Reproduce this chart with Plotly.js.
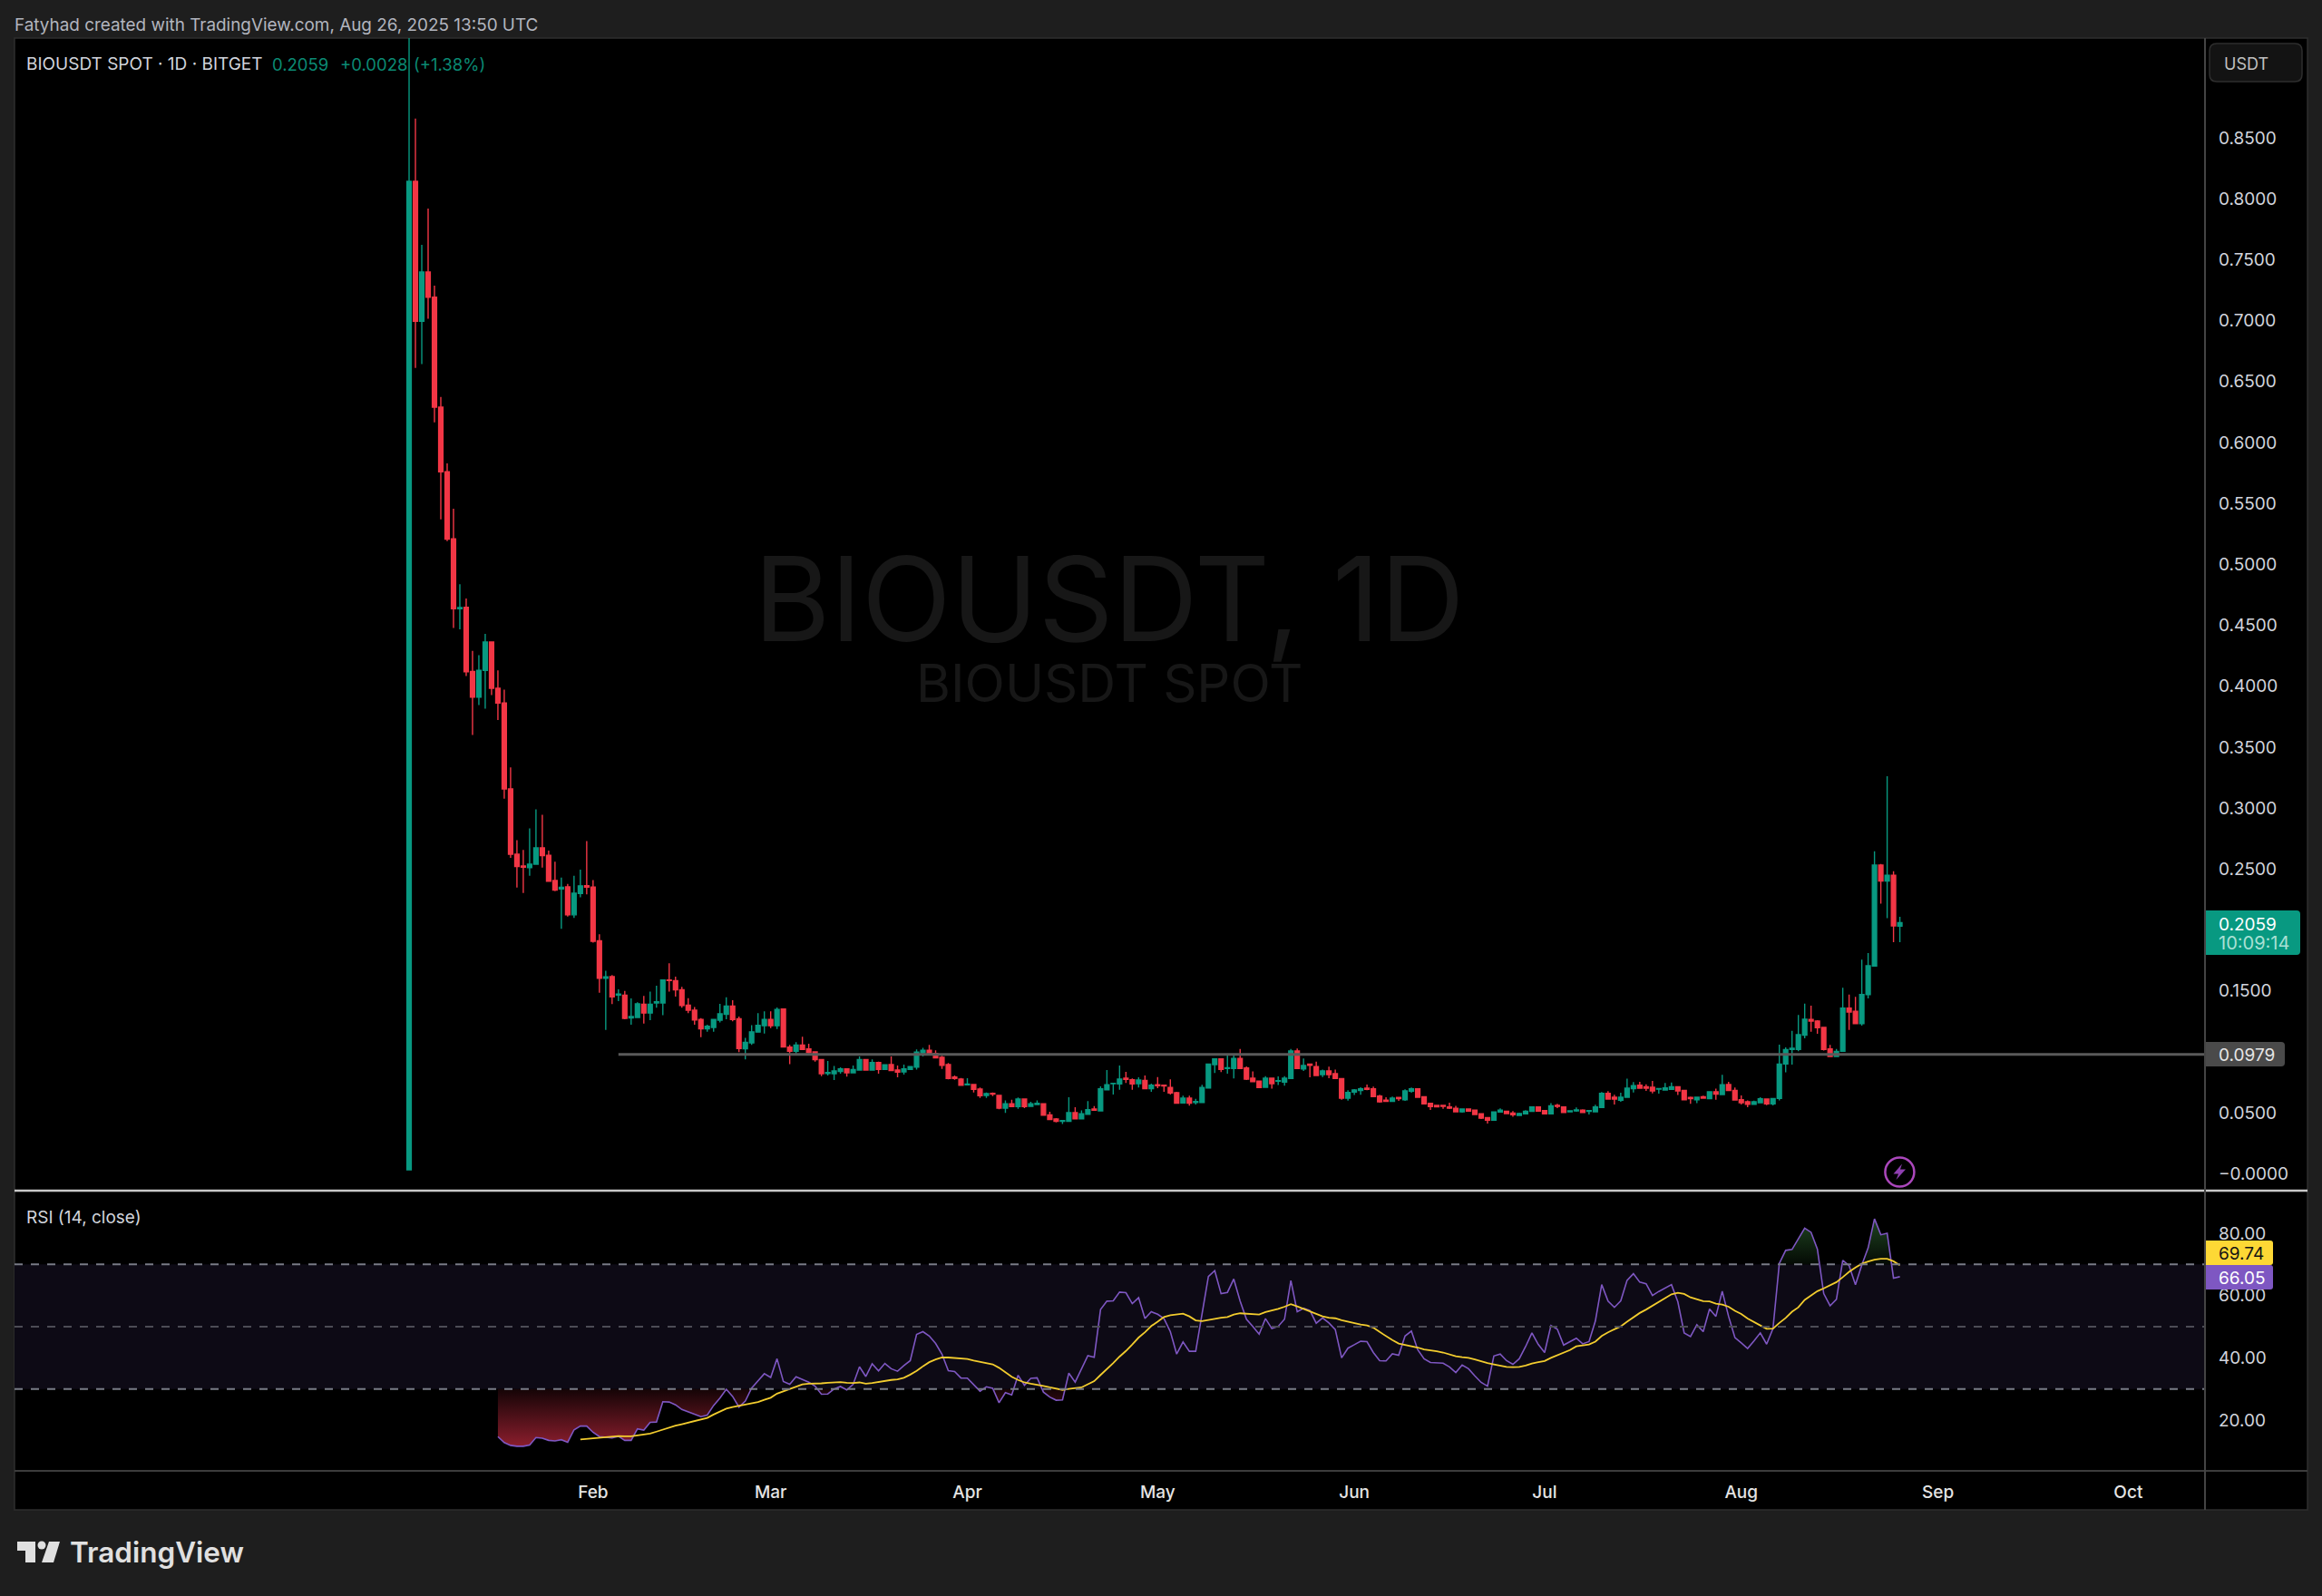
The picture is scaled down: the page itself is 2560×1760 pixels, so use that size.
<!DOCTYPE html>
<html>
<head>
<meta charset="utf-8">
<script src="https://cdn.plot.ly/plotly-3.0.1.min.js"></script>
<style>html,body{margin:0;padding:0;background:#1e1e1e}#chart{width:2560px;height:1760px}</style>
</head>
<body>
<div id="chart"></div>
<script>
const firstDay = '2025-01-03';
const opens = [.0032,.8142,.6994,.7398,.7192,.6289,.5759,.5210,.4636,.4648,
.4121,.3910,.4130,.4362,.3983,.3862,.3157,.2621,.2525,.2512,
.2539,.2674,.2612,.2406,.2336,.2353,.2124,.2299,.2364,.2352,
.1912,.1603,.1617,.1465,.1465,.1277,.1282,.1391,.1318,.1401,
.1401,.1589,.1583,.1509,.1382,.1342,.1265,.1188,.1200,.1260,
.1308,.1376,.1271,.1024,.1074,.1162,.1214,.1265,.1214,.1351,
.1039,.1004,.1056,.1024,.0999,.0937,.0823,.0821,.0838,.0860,
.0828,.0850,.0937,.0850,.0912,.0855,.0895,.0850,.0836,.0855,
.0875,.0992,.1012,.0987,.0955,.0895,.0793,.0776,.0729,.0731,
.0694,.0642,.0659,.0642,.0538,.0573,.0550,.0612,.0553,.0568,
.0573,.0483,.0449,.0429,.0429,.0501,.0451,.0488,.0530,.0516,
.0689,.0739,.0736,.0783,.0771,.0739,.0766,.0697,.0729,.0726,
.0707,.0664,.0580,.0620,.0585,.0585,.0704,.0895,.0942,.0863,
.0863,.0945,.0868,.0783,.0759,.0709,.0783,.0759,.0751,.0781,
.1007,.0860,.0900,.0878,.0813,.0843,.0821,.0781,.0620,.0670,
.0682,.0702,.0697,.0637,.0603,.0593,.0625,.0607,.0677,.0697,
.0632,.0578,.0560,.0560,.0548,.0536,.0508,.0530,.0521,.0491,
.0461,.0439,.0506,.0513,.0498,.0478,.0491,.0511,.0548,.0518,
.0491,.0560,.0548,.0508,.0516,.0521,.0511,.0508,.0543,.0659,
.0627,.0603,.0627,.0697,.0726,.0714,.0709,.0694,.0687,.0692,
.0714,.0684,.0625,.0607,.0632,.0615,.0672,.0650,.0731,.0684,
.0607,.0590,.0570,.0583,.0612,.0573,.0617,.0900,.1019,.1019,
.1136,.1265,.1252,.1200,.1024,.0962,.1004,.1359,.1332,.1232,
.1470,.1704,.2532,.2401,.2448,.2031];
const highs = [.9500,.8658,.7621,.7919,.7287,.6373,.5828,.5456,.4836,.4719,
.4290,.4254,.4430,.4365,.4130,.3972,.3333,.2736,.2656,.2833,
.2989,.2945,.2651,.2559,.2430,.2377,.2444,.2495,.2730,.2409,
.1965,.1665,.1629,.1513,.1500,.1438,.1406,.1459,.1494,.1542,
.1594,.1727,.1617,.1533,.1441,.1368,.1277,.1223,.1265,.1394,
.1447,.1423,.1290,.1115,.1218,.1318,.1332,.1332,.1364,.1353,
.1056,.1079,.1123,.1066,.1004,.0942,.0925,.0883,.0873,.0865,
.0888,.0962,.0940,.0937,.0920,.0895,.0962,.0888,.0895,.0880,
.1019,.1032,.1056,.1012,.0967,.0908,.0806,.0786,.0783,.0734,
.0707,.0667,.0667,.0647,.0602,.0607,.0625,.0615,.0590,.0602,
.0578,.0508,.0456,.0436,.0627,.0545,.0520,.0595,.0555,.0717,
.0850,.0739,.0888,.0836,.0781,.0791,.0806,.0739,.0793,.0729,
.0774,.0672,.0640,.0640,.0615,.0729,.0905,.0945,.0945,.0969,
.0974,.1024,.0880,.0840,.0761,.0801,.0788,.0798,.0801,.1024,
.1027,.0945,.0905,.0920,.0855,.0878,.0855,.0781,.0684,.0694,
.0709,.0731,.0714,.0647,.0627,.0632,.0627,.0692,.0707,.0697,
.0632,.0580,.0564,.0564,.0583,.0556,.0536,.0536,.0526,.0496,
.0466,.0508,.0536,.0518,.0513,.0501,.0521,.0553,.0550,.0521,
.0578,.0573,.0553,.0518,.0543,.0528,.0518,.0566,.0670,.0677,
.0647,.0664,.0779,.0751,.0754,.0734,.0761,.0699,.0744,.0749,
.0719,.0689,.0632,.0632,.0640,.0677,.0697,.0811,.0754,.0707,
.0642,.0602,.0600,.0627,.0615,.0620,.1059,.1037,.1173,.1302,
.1396,.1379,.1260,.1205,.1056,.1024,.1525,.1470,.1451,.1756,
.1810,.2646,.2542,.3261,.2482,.2108];
const lows = [.0032,.6612,.6642,.7014,.6165,.5369,.5190,.4478,.4466,.4083,
.3600,.3845,.3815,.3927,.3723,.3077,.2591,.2347,.2304,.2444,
.2539,.2512,.2395,.2319,.2009,.2110,.2098,.2268,.2292,.1895,
.1485,.1179,.1391,.1415,.1268,.1223,.1278,.1232,.1260,.1362,
.1300,.1494,.1453,.1362,.1318,.1223,.1121,.1164,.1164,.1242,
.1268,.1250,.0997,.0938,.1056,.1162,.1150,.1194,.1188,.1037,
.0898,.0969,.1017,.0987,.0920,.0801,.0806,.0769,.0821,.0796,
.0826,.0848,.0848,.0848,.0821,.0853,.0844,.0791,.0813,.0853,
.0855,.0962,.0969,.0948,.0860,.0774,.0771,.0724,.0727,.0667,
.0622,.0622,.0637,.0528,.0498,.0548,.0533,.0538,.0551,.0563,
.0477,.0442,.0421,.0407,.0427,.0449,.0449,.0486,.0518,.0514,
.0687,.0650,.0689,.0744,.0689,.0707,.0695,.0672,.0702,.0672,
.0650,.0576,.0578,.0558,.0568,.0583,.0702,.0826,.0833,.0821,
.0781,.0861,.0769,.0754,.0705,.0707,.0697,.0727,.0722,.0779,
.0861,.0843,.0791,.0804,.0793,.0784,.0779,.0607,.0600,.0645,
.0647,.0684,.0630,.0583,.0591,.0590,.0598,.0598,.0664,.0625,
.0571,.0523,.0546,.0533,.0530,.0506,.0501,.0508,.0481,.0449,
.0411,.0437,.0501,.0491,.0468,.0476,.0489,.0509,.0511,.0489,
.0489,.0538,.0501,.0503,.0508,.0501,.0486,.0506,.0541,.0610,
.0568,.0590,.0625,.0667,.0700,.0679,.0659,.0657,.0685,.0690,
.0645,.0605,.0573,.0578,.0615,.0613,.0607,.0648,.0680,.0603,
.0568,.0545,.0568,.0581,.0563,.0560,.0602,.0831,.0895,.1005,
.1111,.1165,.1148,.1010,.0957,.0957,.1000,.1180,.1230,.1215,
.1438,.1700,.2215,.2096,.1900,.1900];
const closes = [.8142,.6994,.7398,.7192,.6289,.5759,.5206,.4636,.4645,.4118,
.3910,.4130,.4362,.3983,.3862,.3157,.2621,.2521,.2515,.2539,
.2674,.2609,.2400,.2327,.2351,.2124,.2301,.2362,.2352,.1907,
.1603,.1615,.1450,.1474,.1274,.1290,.1394,.1318,.1391,.1410,
.1589,.1585,.1509,.1380,.1342,.1262,.1188,.1209,.1265,.1312,
.1376,.1265,.1027,.1077,.1164,.1218,.1265,.1214,.1347,.1039,
.1004,.1056,.1019,.0994,.0935,.0821,.0831,.0843,.0860,.0828,
.0855,.0937,.0850,.0912,.0855,.0893,.0846,.0833,.0860,.0878,
.0997,.1012,.0982,.0950,.0890,.0781,.0781,.0726,.0736,.0692,
.0640,.0657,.0652,.0538,.0573,.0550,.0612,.0550,.0573,.0578,
.0479,.0444,.0429,.0436,.0501,.0451,.0491,.0525,.0520,.0697,
.0729,.0741,.0776,.0774,.0736,.0769,.0697,.0726,.0722,.0719,
.0662,.0578,.0620,.0578,.0593,.0707,.0900,.0942,.0855,.0870,
.0945,.0863,.0776,.0756,.0707,.0783,.0739,.0764,.0783,.1007,
.0863,.0888,.0890,.0806,.0843,.0813,.0781,.0620,.0667,.0687,
.0697,.0692,.0632,.0590,.0593,.0620,.0615,.0680,.0697,.0627,
.0573,.0551,.0548,.0553,.0538,.0508,.0530,.0513,.0486,.0456,
.0439,.0506,.0521,.0493,.0483,.0493,.0513,.0548,.0513,.0491,
.0556,.0553,.0503,.0516,.0523,.0503,.0518,.0548,.0659,.0612,
.0612,.0627,.0702,.0722,.0702,.0702,.0679,.0699,.0704,.0714,
.0679,.0607,.0615,.0627,.0620,.0672,.0652,.0729,.0682,.0605,
.0583,.0570,.0590,.0615,.0573,.0617,.0900,.1019,.1029,.1141,
.1267,.1252,.1198,.1019,.0962,.1004,.1359,.1327,.1232,.1470,
.1706,.2532,.2401,.2448,.2033,.2059];
const rsiStartIndex = 14;
const rsiValues = [14.7,12.8,11.9,11.6,11.6,12.0,14.4,14.2,13.5,13.3,13.7,12.9,16.9,18.1,18.1,16.1,
14.7,14.6,14.3,14.8,13.5,13.5,17.2,16.8,19.3,19.4,25.9,25.8,24.9,23.4,22.7,22.0,21.1,21.6,24.7,27.1,
29.9,27.6,24.2,26.1,30.3,32.6,34.9,33.7,39.7,32.4,31.5,33.9,33.0,32.2,30.9,28.3,28.4,30.0,30.8,29.7,
31.5,37.1,34.0,38.1,35.8,38.2,36.5,35.7,37.5,39.1,47.5,48.4,47.0,44.6,41.2,35.9,35.6,33.5,33.5,31.5,
29.3,30.7,30.2,25.6,28.8,28.1,34.4,31.2,33.4,33.6,29.0,27.4,26.4,26.5,35.1,32.2,36.3,40.7,40.2,55.5,
58.2,58.3,61.1,60.9,57.4,59.3,52.6,54.8,54.0,52.6,48.4,41.2,45.1,42.1,42.1,53.8,66.1,68.0,60.6,61.0,
65.3,58.2,52.4,50.1,47.6,52.6,49.4,50.1,52.4,64.8,54.8,55.9,55.2,51.1,52.8,51.2,49.1,40.0,43.1,44.2,
45.3,45.2,41.7,39.1,39.0,41.3,40.8,47.0,48.6,42.6,39.7,38.5,38.5,38.3,37.1,35.3,37.7,36.5,34.2,32.1,
30.9,40.6,41.2,39.1,37.9,39.7,43.6,48.0,44.3,41.7,50.4,49.2,44.1,45.2,46.3,44.5,45.2,51.8,63.5,58.2,
56.2,58.3,64.9,67.0,64.3,63.8,60.0,61.3,62.4,63.5,58.0,48.0,46.8,50.6,48.4,55.7,53.3,61.4,53.3,46.5,
44.8,43.0,45.4,48.0,44.4,49.4,70.3,74.5,74.8,78.3,81.6,80.3,74.9,60.6,56.7,58.8,71.3,69.6,63.5,69.8,
75.3,84.6,79.5,80.0,65.6,66.05];
const rsiMaStartIndex = 27;
const rsiMaValues = [13.8,14.0,14.2,14.4,14.6,14.7,14.9,14.8,14.8,15.1,15.4,15.7,16.3,17.0,17.6,18.2,18.7,19.2,19.7,
20.1,20.7,21.8,22.7,23.7,24.2,24.6,25.0,25.3,25.8,26.5,27.2,28.5,29.3,30.1,30.9,31.5,31.7,31.7,31.8,32.0,
32.2,32.2,32.0,31.9,32.1,31.7,31.9,32.3,32.7,32.9,33.1,33.6,34.6,35.8,37.3,38.6,39.5,40.1,40.1,40.0,
39.8,39.6,39.1,38.7,38.4,37.9,36.8,35.3,33.9,32.9,32.1,31.7,31.4,31.0,30.5,30.0,29.7,30.0,30.2,30.5,
31.5,32.5,34.5,36.3,38.3,40.4,42.2,44.3,46.5,48.2,50.2,51.6,53.1,53.7,53.9,54.2,53.3,52.0,51.8,52.2,
52.7,52.9,53.1,53.9,54.3,54.2,54.0,53.9,54.7,55.1,55.7,56.4,57.2,56.5,55.7,55.0,54.1,53.3,52.9,52.7,
52.1,51.6,51.1,50.7,50.4,49.7,48.3,46.9,45.7,44.6,44.2,43.9,43.3,42.7,42.5,42.1,41.7,41.1,40.5,40.2,
40.0,39.5,38.8,38.3,37.9,37.4,37.1,37.0,37.1,37.5,38.2,38.6,39.0,40.0,40.9,41.6,42.5,43.7,44.1,44.3,
45.2,47.0,48.2,49.2,50.1,51.6,53.0,54.4,55.5,56.7,58.0,59.0,60.4,60.9,60.5,59.4,58.8,58.2,58.1,57.4,
57.1,56.4,55.1,54.1,52.6,51.6,50.4,49.3,49.4,51.2,52.8,54.8,56.2,58.6,60.1,61.4,62.3,63.2,64.3,65.9,
67.6,69.0,70.2,70.9,71.5,71.8,71.8,71.0,69.74];
const priceTicks = [0,0.05,0.15,0.25,0.3,0.35,0.4,0.45,0.5,0.55,0.6,0.65,0.7,0.75,0.8,0.85];
const priceTickText = ['\u22120.0000','0.0500','0.1500','0.2500','0.3000','0.3500','0.4000','0.4500','0.5000','0.5500','0.6000','0.6500','0.7000','0.7500','0.8000','0.8500'];
const rsiTicks = [20,40,60,80];
const monthTicks = ['2025-02-01','2025-03-01','2025-04-01','2025-05-01','2025-06-01','2025-07-01','2025-08-01','2025-09-01','2025-10-01'];
const monthLabels = ['Feb','Mar','Apr','May','Jun','Jul','Aug','Sep','Oct'];
const supportLevel = 0.0979;
const supportStart = '2025-02-05';

const W = 2560, H = 1760, FONT = 'Inter, "Noto Sans", sans-serif';
const DAY = 86400000, t0 = Date.parse(firstDay + 'T00:00:00Z');
const dayIso = d => new Date(t0 + d * DAY).toISOString().slice(0, 19).replace('T', ' ');
const dates = opens.map((_, i) => dayIso(i));
const xRange = [dayIso(-62.2), dayIso(283.1)];
const X = x => x / W, Y = y => 1 - y / H;

// fill region of the RSI line beyond a level, closed along that level
function beyond(level, isBelow) {
  const xs = [], ys = [];
  const inside = v => isBelow ? v < level : v > level;
  let open = false, startX = null;
  const close = () => { xs.push(xs[xs.length - 1], startX, null); ys.push(level, level, null); open = false; };
  rsiValues.forEach((v, k) => {
    const d = k + rsiStartIndex;
    const prev = k > 0 ? rsiValues[k - 1] : null;
    if (inside(v)) {
      if (!open) {
        if (prev === null) { startX = dayIso(d); xs.push(startX); ys.push(level); }
        else { const c = d - 1 + (level - prev) / (v - prev); startX = dayIso(c); xs.push(startX); ys.push(level); }
        open = true;
      }
      xs.push(dayIso(d)); ys.push(v);
    } else if (open) {
      const c = d - 1 + (level - prev) / (v - prev);
      xs.push(dayIso(c)); ys.push(level);
      close();
    }
  });
  if (open) close();
  return { xs, ys };
}
const lowFill = beyond(30, true), highFill = beyond(70, false);

const traces = [
  { type: 'scatter', mode: 'lines', x: [supportStart, xRange[1]], y: [supportLevel, supportLevel], xaxis: 'x', yaxis: 'y',
    line: { color: '#5a5a5a', width: 3 }, hoverinfo: 'skip', showlegend: false },
  { type: 'candlestick', x: dates, open: opens, high: highs, low: lows, close: closes, xaxis: 'x', yaxis: 'y',
    increasing: { line: { color: '#089981', width: 1.4 }, fillcolor: '#089981' },
    decreasing: { line: { color: '#F23645', width: 1.4 }, fillcolor: '#F23645' },
    whiskerwidth: 0, hoverinfo: 'skip', showlegend: false },
  { type: 'scatter', mode: 'lines', x: lowFill.xs, y: lowFill.ys, xaxis: 'x', yaxis: 'y2', fill: 'toself',
    fillgradient: { type: 'vertical', start: 30, stop: 11.5, colorscale: [[0, 'rgba(20,4,6,1)'], [1, 'rgb(140,30,45)']] },
    line: { width: 0 }, hoverinfo: 'skip', showlegend: false },
  { type: 'scatter', mode: 'lines', x: highFill.xs, y: highFill.ys, xaxis: 'x', yaxis: 'y2', fill: 'toself',
    fillgradient: { type: 'vertical', start: 70, stop: 84, colorscale: [[0, 'rgb(4,10,4)'], [1, 'rgb(30,66,32)']] },
    line: { width: 0 }, hoverinfo: 'skip', showlegend: false },
  { type: 'scatter', mode: 'lines', x: rsiValues.map((_, k) => dayIso(k + rsiStartIndex)), y: rsiValues, xaxis: 'x', yaxis: 'y2',
    line: { color: '#7E57C2', width: 1.6 }, hoverinfo: 'skip', showlegend: false },
  { type: 'scatter', mode: 'lines', x: rsiMaValues.map((_, k) => dayIso(k + rsiMaStartIndex)), y: rsiMaValues, xaxis: 'x', yaxis: 'y2',
    line: { color: '#F2CC2E', width: 1.8 }, hoverinfo: 'skip', showlegend: false }
];

const rr = (x0, y0, x1, y1, r) => {
  const p = (x, y) => X(x) + ',' + Y(y);
  return 'M' + p(x0 + r, y0) + ' L' + p(x1 - r, y0) + ' Q' + p(x1, y0) + ' ' + p(x1, y0 + r) +
    ' L' + p(x1, y1 - r) + ' Q' + p(x1, y1) + ' ' + p(x1 - r, y1) +
    ' L' + p(x0 + r, y1) + ' Q' + p(x0, y1) + ' ' + p(x0, y1 - r) +
    ' L' + p(x0, y0 + r) + ' Q' + p(x0, y0) + ' ' + p(x0 + r, y0) + ' Z';
};
const rightBox = (x0, y0, x1, y1, r) => {
  const p = (x, y) => X(x) + ',' + Y(y);
  return 'M' + p(x0, y0) + ' L' + p(x1 - r, y0) + ' Q' + p(x1, y0) + ' ' + p(x1, y0 + r) +
    ' L' + p(x1, y1 - r) + ' Q' + p(x1, y1) + ' ' + p(x1 - r, y1) + ' L' + p(x0, y1) + ' Z';
};
const poly = pts => 'M' + pts.map(q => X(q[0]) + ',' + Y(q[1])).join(' L') + ' Z';
const paperLine = (x0, y0, x1, y1, color, width) => ({ type: 'line', xref: 'paper', yref: 'paper', x0: X(x0), x1: X(x1), y0: Y(y0), y1: Y(y1), line: { color, width }, layer: 'above' });
const pathShape = (path, fill, lineColor, lineWidth) => ({ type: 'path', xref: 'paper', yref: 'paper', path, fillcolor: fill, line: { color: lineColor || fill, width: lineWidth || 0 }, layer: 'above' });
const rsiLevel = (v, color) => ({ type: 'line', xref: 'x domain', yref: 'y2', x0: 0, x1: 1, y0: v, y1: v, line: { color, width: 2, dash: '9px,9px' }, layer: 'above' });

const shapes = [
  { type: 'rect', xref: 'paper', yref: 'paper', x0: X(16), x1: X(2544), y0: Y(1665), y1: Y(42), fillcolor: '#000000', line: { color: '#2e2e2e', width: 1.5 }, layer: 'below' },
  { type: 'rect', xref: 'x domain', yref: 'y2', x0: 0, x1: 1, y0: 30, y1: 70, fillcolor: '#0d0a15', line: { width: 0 }, layer: 'below' },
  rsiLevel(70, '#787b86'), rsiLevel(50, '#4c4c55'), rsiLevel(30, '#787b86'),
  paperLine(16, 1313, 2544, 1313, '#c9c9c9', 2.5),
  paperLine(16, 1622, 2544, 1622, '#3c3c3c', 2),
  paperLine(2431, 42, 2431, 1665, '#444444', 2),
  pathShape(rightBox(2432, 1004, 2536, 1053, 4), '#089981'),
  pathShape(rightBox(2432, 1149, 2519, 1176, 4), '#4a4a4a'),
  pathShape(rightBox(2432, 1368, 2506, 1395, 3), '#FDD835'),
  pathShape(rightBox(2432, 1395, 2506, 1422, 3), '#7E57C2'),
  pathShape(rr(2436, 48, 2538, 90, 8), '#131313', '#2e2e2e', 1.5),
  { type: 'circle', xref: 'paper', yref: 'paper', x0: X(2078.4), x1: X(2110.4), y0: Y(1308.5), y1: Y(1276.5), line: { color: '#AB47BC', width: 2.5 }, fillcolor: 'rgba(0,0,0,0)', layer: 'above' },
  pathShape(poly([[2097, 1283.5], [2087.5, 1294.5], [2093, 1294.5], [2090.5, 1301], [2101, 1289.5], [2095, 1289.5]]), '#8E3FB0'),
  pathShape(poly([[19, 1700], [39, 1700], [39, 1723], [28, 1723], [28, 1710], [19, 1710]]), '#e0e0e0'),
  { type: 'circle', xref: 'paper', yref: 'paper', x0: X(41.5), x1: X(50.5), y0: Y(1708.5), y1: Y(1699.5), fillcolor: '#e0e0e0', line: { width: 0 }, layer: 'above' },
  pathShape(poly([[54, 1700], [66, 1700], [59, 1723], [46, 1723]]), '#e0e0e0')
];

const note = (x, y, text, size, color, extra) => Object.assign({
  xref: 'paper', yref: 'paper', x: X(x), y: Y(y), text, showarrow: false, xanchor: 'left', yanchor: 'middle',
  borderpad: 0, font: { family: FONT, size, color }
}, extra || {});
const annotations = [
  note(1223, 660, 'BIOUSDT, 1D', 129, '#171717', { xanchor: 'center' }),
  note(1223, 753, 'BIOUSDT SPOT', 58, '#171717', { xanchor: 'center' }),
  note(15, 28, 'Fatyhad created with TradingView.com, Aug 26, 2025 13:50 UTC', 18.9, '#b2b5be'),
  note(28, 71, 'BIOUSDT SPOT \u00b7 1D \u00b7 BITGET', 19, '#d1d4dc'),
  note(299, 71, '0.2059', 18.5, '#0b8a74'),
  note(374, 71, '+0.0028', 18.5, '#0b8a74'),
  note(455, 71, '(+1.38%)', 18.5, '#0b8a74'),
  note(28, 1342, 'RSI (14, close)', 19, '#d1d4dc'),
  note(2451, 70, 'USDT', 18, '#c0c0c0'),
  note(2445, 1019, '0.2059', 19, '#ffffff'),
  note(2445, 1040, '10:09:14', 20, '#a9e0d4'),
  note(2445, 1163, '0.0979', 19, '#e6e6e6'),
  note(2445, 1382, '69.74', 19, '#131313'),
  note(2445, 1409, '66.05', 19, '#ffffff'),
  note(76, 1711, 'TradingView', 31.5, '#e0e0e0', { font: { family: FONT, size: 31.5, color: '#e0e0e0', weight: 600 } })
];

const layout = {
  width: W, height: H, margin: { l: 0, r: 0, t: 0, b: 0 }, autosize: false,
  paper_bgcolor: '#1e1e1e', plot_bgcolor: '#000000', showlegend: false, hovermode: false, boxgap: 0.32, boxgroupgap: 0,
  font: { family: FONT, color: '#d1d4dc' },
  xaxis: { type: 'date', domain: [X(16), X(2431)], range: xRange, anchor: 'y2', rangeslider: { visible: false },
    tickmode: 'array', tickvals: monthTicks, ticktext: monthLabels, showgrid: false, zeroline: false, showline: false, ticks: '',
    tickfont: { family: FONT, size: 19, color: '#e4e4e4', weight: 500 }, ticklabelstandoff: 11 },
  yaxis: { domain: [Y(1312), Y(42)], range: [(1294.3 - 1312) / 1344, (1294.3 - 42) / 1344], anchor: 'x', side: 'right',
    tickmode: 'array', tickvals: priceTicks, ticktext: priceTickText, showgrid: false, zeroline: false, showline: false, ticks: '',
    tickfont: { family: FONT, size: 19, color: '#d1d4dc' }, ticklabelstandoff: 14 },
  yaxis2: { domain: [Y(1621), Y(1314)], range: [50 - (1621 - 1463) / 3.435, 50 + (1463 - 1314) / 3.435], anchor: 'x', side: 'right',
    tickmode: 'array', tickvals: rsiTicks, ticktext: rsiTicks.map(v => v.toFixed(2)), showgrid: false, zeroline: false, showline: false, ticks: '',
    tickfont: { family: FONT, size: 19, color: '#d1d4dc' }, ticklabelstandoff: 14 },
  shapes, annotations
};
Plotly.newPlot('chart', traces, layout, { displayModeBar: false, staticPlot: true, responsive: false });
</script>
</body>
</html>
